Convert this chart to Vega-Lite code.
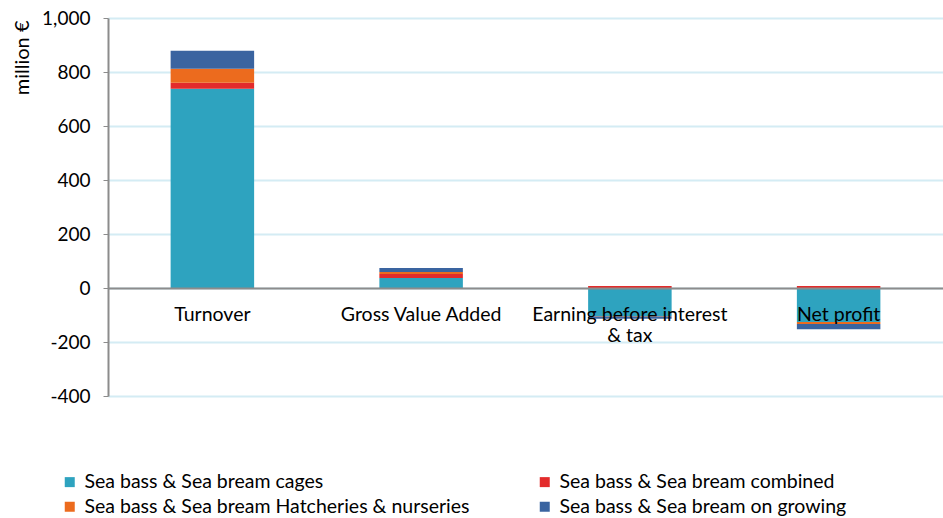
{
  "$schema": "https://vega.github.io/schema/vega-lite/v6.json",
  "autosize": {"type": "none"},
  "padding": {"left": 108, "top": 18, "right": 0, "bottom": 122},
  "width": 835,
  "height": 378,
  "background": "white",
  "config": {
    "font": "Lato",
    "view": {"stroke": null}
  },
  "data": {
    "values": [
      {"indicator": "Turnover", "segment": "Sea bass & Sea bream cages", "ord": 1, "value": 738},
      {"indicator": "Turnover", "segment": "Sea bass & Sea bream combined", "ord": 2, "value": 22},
      {"indicator": "Turnover", "segment": "Sea bass & Sea bream Hatcheries & nurseries", "ord": 3, "value": 52},
      {"indicator": "Turnover", "segment": "Sea bass & Sea bream on growing", "ord": 4, "value": 67},
      {"indicator": "Gross Value Added", "segment": "Sea bass & Sea bream cages", "ord": 1, "value": 37},
      {"indicator": "Gross Value Added", "segment": "Sea bass & Sea bream combined", "ord": 2, "value": 15},
      {"indicator": "Gross Value Added", "segment": "Sea bass & Sea bream Hatcheries & nurseries", "ord": 3, "value": 7},
      {"indicator": "Gross Value Added", "segment": "Sea bass & Sea bream on growing", "ord": 4, "value": 15},
      {"indicator": "Earning before interest & tax", "segment": "Sea bass & Sea bream cages", "ord": 1, "value": -104},
      {"indicator": "Earning before interest & tax", "segment": "Sea bass & Sea bream combined", "ord": 2, "value": 7},
      {"indicator": "Earning before interest & tax", "segment": "Sea bass & Sea bream Hatcheries & nurseries", "ord": 3, "value": -2},
      {"indicator": "Earning before interest & tax", "segment": "Sea bass & Sea bream on growing", "ord": 4, "value": -8},
      {"indicator": "Net profit", "segment": "Sea bass & Sea bream cages", "ord": 1, "value": -126},
      {"indicator": "Net profit", "segment": "Sea bass & Sea bream combined", "ord": 2, "value": 7},
      {"indicator": "Net profit", "segment": "Sea bass & Sea bream Hatcheries & nurseries", "ord": 3, "value": -7},
      {"indicator": "Net profit", "segment": "Sea bass & Sea bream on growing", "ord": 4, "value": -20}
    ]
  },
  "mark": {"type": "bar"},
  "encoding": {
    "x": {
      "field": "indicator",
      "type": "nominal",
      "sort": ["Turnover", "Gross Value Added", "Earning before interest & tax", "Net profit"],
      "scale": {"paddingInner": 0.6, "paddingOuter": 0.3},
      "axis": {
        "title": null,
        "offset": -108,
        "zindex": 1,
        "domainColor": "#8c8c8c",
        "domainWidth": 2,
        "ticks": false,
        "labelAngle": 0,
        "labelFontSize": 19.5,
        "labelColor": "#000000",
        "labelPadding": 17,
        "labelBaseline": "top",
        "labelLimit": 300,
        "labelExpr": "datum.value == 'Earning before interest & tax' ? ['Earning before interest', '& tax'] : datum.value"
      }
    },
    "y": {
      "field": "value",
      "type": "quantitative",
      "stack": "zero",
      "scale": {"domain": [-400, 1000], "nice": false},
      "axis": {
        "values": [-400, -200, 0, 200, 400, 600, 800, 1000],
        "labelExpr": "datum.value < 0 ? '-' + format(-datum.value, ',.0f') : format(datum.value, ',.0f')",
        "title": "million €",
        "titleFontSize": 20,
        "titleFontWeight": "normal",
        "titleColor": "#000000",
        "titleX": -86,
        "titleY": 2,
        "titleAngle": -90,
        "titleAlign": "right",
        "titleBaseline": "middle",
        "labelFontSize": 19,
        "labelColor": "#000000",
        "labelPadding": 13,
        "tickSize": 5,
        "tickColor": "#8c8c8c",
        "domainColor": "#8c8c8c",
        "domainWidth": 2,
        "gridColor": "#d4ecf4",
        "gridWidth": 2
      }
    },
    "color": {
      "field": "segment",
      "type": "nominal",
      "scale": {
        "domain": ["Sea bass & Sea bream cages", "Sea bass & Sea bream Hatcheries & nurseries", "Sea bass & Sea bream combined", "Sea bass & Sea bream on growing"],
        "range": ["#2EA3BF", "#EC6B1E", "#E32B2B", "#3A64A0"]
      },
      "legend": {
        "title": null,
        "orient": "none",
        "legendX": -48,
        "legendY": 454,
        "columns": 2,
        "columnPadding": 65,
        "rowPadding": 4,
        "symbolType": "square",
        "symbolSize": 100,
        "symbolStrokeWidth": 0,
        "labelFontSize": 19.5,
        "labelColor": "#000000",
        "labelLimit": 500,
        "labelOffset": 5
      }
    },
    "order": {"field": "ord", "type": "quantitative", "sort": "ascending"}
  }
}
